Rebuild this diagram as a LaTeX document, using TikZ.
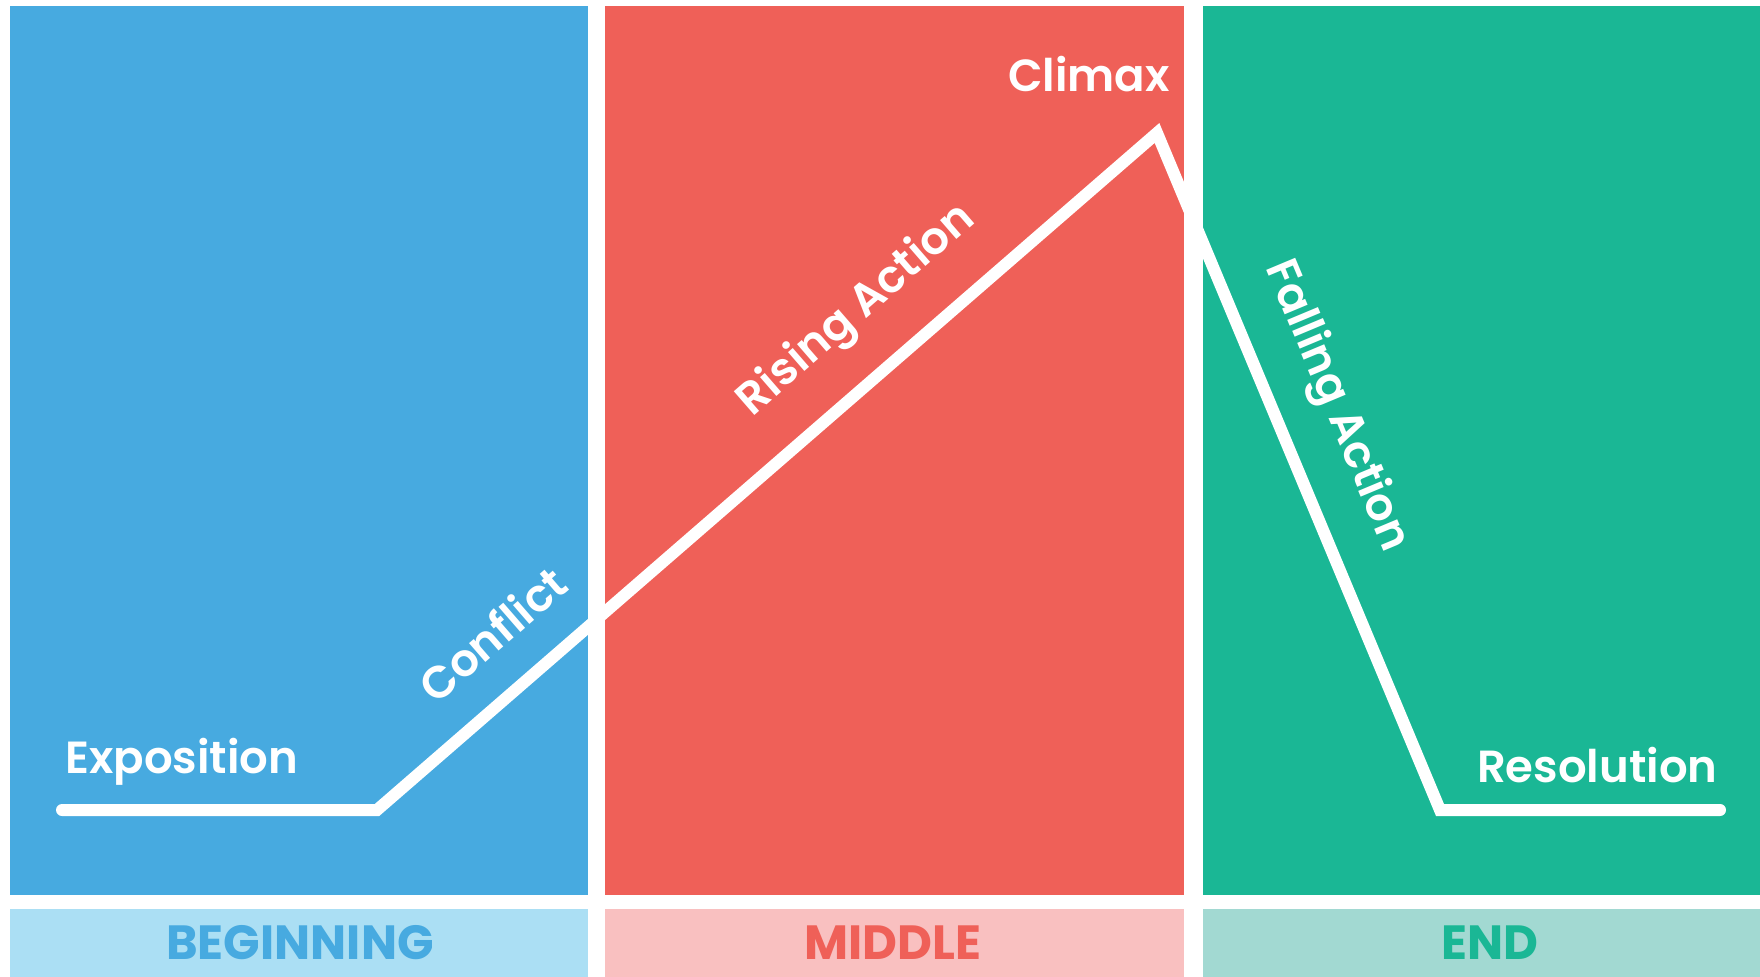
\documentclass[tikz,border=0pt]{standalone}
\usepackage{fontspec}
\setmainfont{Poppins}
\newfontfamily\labelfont{Poppins SemiBold}
\usepackage{xcolor}
\definecolor{begblue}{RGB}{71,170,224}
\definecolor{beglight}{RGB}{171,223,244}
\definecolor{midred}{RGB}{239,96,88}
\definecolor{midlight}{RGB}{249,192,192}
\definecolor{endgreen}{RGB}{26,183,149}
\definecolor{endlight}{RGB}{162,217,210}

\begin{document}
\begin{tikzpicture}[x=0.5pt,y=-0.5pt,
  stage/.style={text=white,font=\labelfont\fontsize{22.5}{22.5}\selectfont,inner sep=0pt},
  part/.style={font=\fontsize{24}{24}\selectfont\bfseries,inner sep=0pt,anchor=base},
  storyline/.style={white,line width=6pt,line cap=round,line join=miter}]
\useasboundingbox (0,0) rectangle (1760,977);
% three acts
\fill[begblue] (10,6) rectangle (588,895);
\fill[midred] (605,6) rectangle (1184,895);
\fill[endgreen] (1203,6) rectangle (1760,895);
\fill[beglight] (10,909) rectangle (588,977);
\fill[midlight] (605,909) rectangle (1184,977);
\fill[endlight] (1203,909) rectangle (1760,977);
\node[part,text=begblue] (beginning) at (300,959) {BEGINNING};
\node[part,text=midred] (middle) at (893,959) {MIDDLE};
\node[part,text=endgreen] (end) at (1490,959) {END};
% plot line
\coordinate (start) at (62,810);
\coordinate (kink) at (377,810);
\coordinate (peak) at (1157,133);
\coordinate (drop) at (1440,810);
\coordinate (finish) at (1720,810);
\draw[storyline] (start) -- (kink) -- (peak) -- (drop) -- (finish);
\node[stage,anchor=base west] (exposition) at (65,773) {Exposition};
\node[stage,rotate=41] (conflict) at (492,634) {Conflict};
\node[stage,rotate=41] (rising) at (857,311) {Rising Action};
\node[stage,anchor=base east] (climax) at (1170,92) {Climax};
\node[stage,rotate=-67.3] (falling) at (1336,406) {Falling Action};
\node[stage,anchor=base east] (resolution) at (1718,782) {Resolution};
\end{tikzpicture}
\end{document}
